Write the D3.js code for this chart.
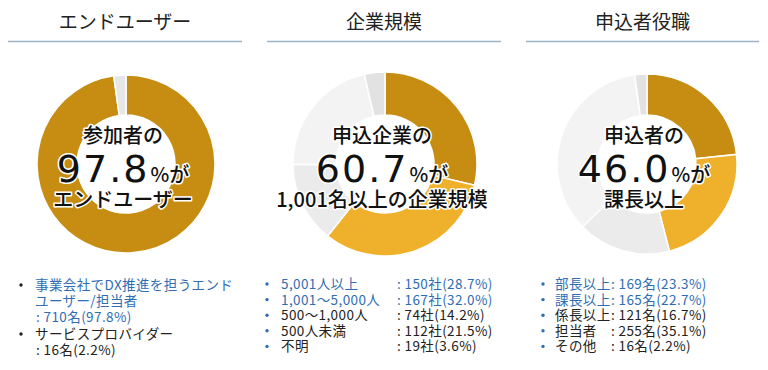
<!DOCTYPE html>
<html>
<head>
<meta charset="utf-8">
<script src="https://cdn.jsdelivr.net/npm/d3@7"></script>
<style>
  body { margin: 0; background: #fff; }
  svg text { font-family: "Noto Sans CJK JP", "Noto Sans", sans-serif; }
</style>
</head>
<body>
<div id="chart"></div>
<script>
// data
const panelTitles = ["エンドユーザー", "企業規模", "申込者役職"];

const userLabels = [["事業会社でDX推進を担うエンド", "ユーザー/担当者"], ["サービスプロバイダー"]];
const userCounts = [710, 16];
const userShares = [97.8, 2.2];

const sizeLabels = ["5,001人以上", "1,001～5,000人", "500～1,000人", "500人未満", "不明"];
const sizeCounts = [150, 167, 74, 112, 19];
const sizeShares = [28.7, 32.0, 14.2, 21.5, 3.6];

const roleLabels = ["部長以上", "課長以上", "係長以上", "担当者", "その他"];
const roleCounts = [169, 165, 121, 255, 16];
const roleShares = [23.3, 22.7, 16.7, 35.1, 2.2];

const centerTop = ["参加者の", "申込企業の", "申込者の"];
const centerNum = ["97.8", "60.7", "46.0"];
const centerBottom = ["エンドユーザー", "1,001名以上の企業規模", "課長以上"];

(function donuts(){
  let width = 768, height = 370;
  const svg = d3.select("#chart").append("svg")
    .attr("width", width).attr("height", height);

  const gold = "#c68d12", lightGold = "#efb02b";
  const blue = "#2f6db3", ink = "#222";

  const panels = [
    { cx: 126, r: 89, line: [8, 242], shares: userShares,
      colors: [gold, "#e6e6e6"] },
    { cx: 385, r: 92, line: [267, 501], shares: sizeShares,
      colors: [gold, lightGold, "#ebebeb", "#f3f3f3", "#e2e2e2"] },
    { cx: 647, r: 90, line: [526, 759], shares: roleShares,
      colors: [gold, lightGold, "#ebebeb", "#f3f3f3", "#e2e2e2"] }
  ];
  const cy = 164, innerR = 49;

  const pie = d3.pie().sort(null).value(d => d);

  panels.forEach((p, i) => {
    // title + rule
    svg.append("text")
      .attr("x", (p.line[0] + p.line[1]) / 2).attr("y", 29)
      .attr("text-anchor", "middle")
      .style("font-size", "19px").style("fill", "#222")
      .text(panelTitles[i]);
    svg.append("line")
      .attr("x1", p.line[0]).attr("x2", p.line[1])
      .attr("y1", 41.5).attr("y2", 41.5)
      .attr("stroke", "#9cb2c5").attr("stroke-width", 1.5);

    const arc = d3.arc().innerRadius(innerR).outerRadius(p.r);
    const g = svg.append("g").attr("transform", `translate(${p.cx},${cy})`);
    g.selectAll("path")
      .data(pie(p.shares))
      .join("path")
      .attr("d", arc)
      .attr("fill", (d, j) => p.colors[j])
      .attr("stroke", "#fff").attr("stroke-width", 1.5);

    // centre text with white halo
    const t = g.append("g")
      .style("paint-order", "stroke")
      .attr("stroke", "#fff").attr("stroke-width", 3).attr("stroke-linejoin", "round")
      .style("fill", "#111");
    t.append("text").attr("x", -3).attr("y", -21)
      .attr("text-anchor", "middle")
      .style("font-size", "20px").style("font-weight", 500)
      .text(centerTop[i]);
    const big = t.append("text").attr("x", -3).attr("y", 18)
      .attr("text-anchor", "middle");
    big.append("tspan")
      .style("font-family", "'DejaVu Sans', sans-serif")
      .style("font-size", "38px")
      .attr("letter-spacing", "2px").text(centerNum[i]);
    big.append("tspan").style("font-size", "20px").style("font-weight", 500)
      .attr("dx", 1).text("%が");
    t.append("text").attr("x", -3).attr("y", 43)
      .attr("text-anchor", "middle")
      .style("font-size", "20px").style("font-weight", 500)
      .text(centerBottom[i]);
  });

  // legends
  const fs = "13.5px", ls = "0.4px";
  function bullet(x, y, color) {
    svg.append("circle").attr("cx", x).attr("cy", y - 5).attr("r", 1.7).attr("fill", color);
  }
  function label(x, y, c, s) {
    svg.append("text").attr("x", x).attr("y", y)
      .style("font-size", fs).attr("letter-spacing", ls).style("fill", c).text(s);
  }

  // panel 1
  let y = 290;
  userLabels.forEach((lines, j) => {
    const c = j == 0 ? blue : ink;
    bullet(21, y, ink);
    lines.forEach(l => { label(35, y, c, l); y += 16; });
    label(36, y, c, `: ${userCounts[j]}名(${userShares[j].toFixed(1)}%)`);
    y += 17;
  });

  // panel 2
  sizeLabels.forEach((l, j) => {
    const yy = 289 + j * 15.6;
    const c = j < 2 ? blue : ink;
    bullet(267, yy, blue);
    label(281, yy, c, l);
    label(397, yy, c, `: ${sizeCounts[j]}社(${sizeShares[j].toFixed(1)}%)`);
  });

  // panel 3
  roleLabels.forEach((l, j) => {
    const yy = 289 + j * 15.6;
    const c = j < 2 ? blue : ink;
    bullet(543, yy, blue);
    label(555, yy, c, l);
    label(611, yy, c, `: ${roleCounts[j]}名(${roleShares[j].toFixed(1)}%)`);
  });
})();
</script>
</body>
</html>
